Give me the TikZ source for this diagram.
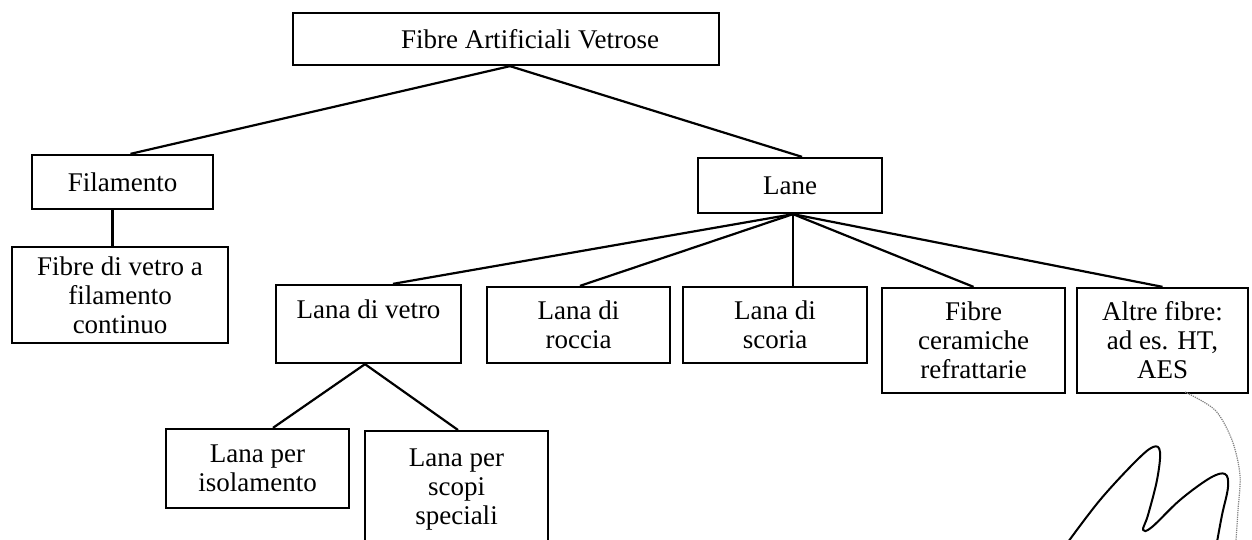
\documentclass[tikz,border=0pt]{standalone}
\usepackage{fontspec}
\setmainfont{Liberation Serif}
\begin{document}
\begin{tikzpicture}[x=1pt,y=-1pt,
  box/.style={draw,line width=2.3pt,align=center,inner sep=0pt,
    font=\fontsize{27}{29}\selectfont},
  conn/.style={line width=2.2pt}]
\useasboundingbox[fill=white] (0,0) rectangle (1252,540);
\node[box,minimum width=426,minimum height=52] (top) at (506,39) {\hspace*{48pt}Fibre Artificiali Vetrose};
\node[box,minimum width=181,minimum height=54] (fil) at (122.5,182) {Filamento};
\node[box,minimum width=184,minimum height=55] (lane) at (790,185.5) {Lane};
\node[box,minimum width=216,minimum height=96] (fvc) at (120,295) {Fibre di vetro a\\filamento\\continuo};
\node[box,minimum width=185,minimum height=78] (ldv) at (368.5,324) {Lana di vetro\\\mbox{}};
\node[box,minimum width=183,minimum height=76] (ldr) at (578.5,325) {Lana di\\roccia};
\node[box,minimum width=184,minimum height=76] (lds) at (775,325) {Lana di\\scoria};
\node[box,minimum width=183,minimum height=105] (fcr) at (973.5,340.5) {Fibre\\ceramiche\\refrattarie};
\node[box,minimum width=171,minimum height=105] (alt) at (1162.5,340.5) {Altre fibre:\\ad es. HT,\\AES};
\node[box,minimum width=183,minimum height=79] (lpi) at (257.5,468.5) {Lana per\\isolamento};
\node[box,minimum width=183,minimum height=140,anchor=north] (lps) at (456.5,430) {Lana per\\scopi\\speciali\\\mbox{}};
% connectors
\draw[conn] ([xshift=4pt]top.south) -- ([xshift=8pt]fil.north);
\draw[conn] ([xshift=4pt]top.south) -- ([xshift=12pt]lane.north);
\draw[conn] ([xshift=-10pt]fil.south) -- ([xshift=-10pt]fil.south |- fvc.north);
\draw[conn] ([xshift=3pt]lane.south) -- ([xshift=24.5pt]ldv.north);
\draw[conn] ([xshift=3pt]lane.south) -- ([xshift=1.5pt]ldr.north);
\draw[conn] ([xshift=3pt]lane.south) -- ([xshift=18pt]lds.north);
\draw[conn] ([xshift=3pt]lane.south) -- (fcr.north);
\draw[conn] ([xshift=3pt]lane.south) -- (alt.north);
\draw[conn] ([xshift=-3.5pt]ldv.south) -- ([xshift=15.5pt]lpi.north);
\draw[conn] ([xshift=-3.5pt]ldv.south) -- ([xshift=1.5pt]lps.north);
% signature
\draw[line width=2pt,line cap=round,line join=round] plot[smooth,tension=0.6] coordinates
  {(1068,542) (1100,500) (1135,462) (1153,447) (1160,452) (1157,480) (1148,515) (1143,530) (1152,527) (1180,500) (1210,478) (1225,474) (1228,487) (1222,515) (1217,542)};
\draw[line width=1.2pt,densely dotted,gray] plot[smooth] coordinates
  {(1185,392) (1215,410) (1232,440) (1240,475) (1238,510) (1236,540)};
\end{tikzpicture}
\end{document}
